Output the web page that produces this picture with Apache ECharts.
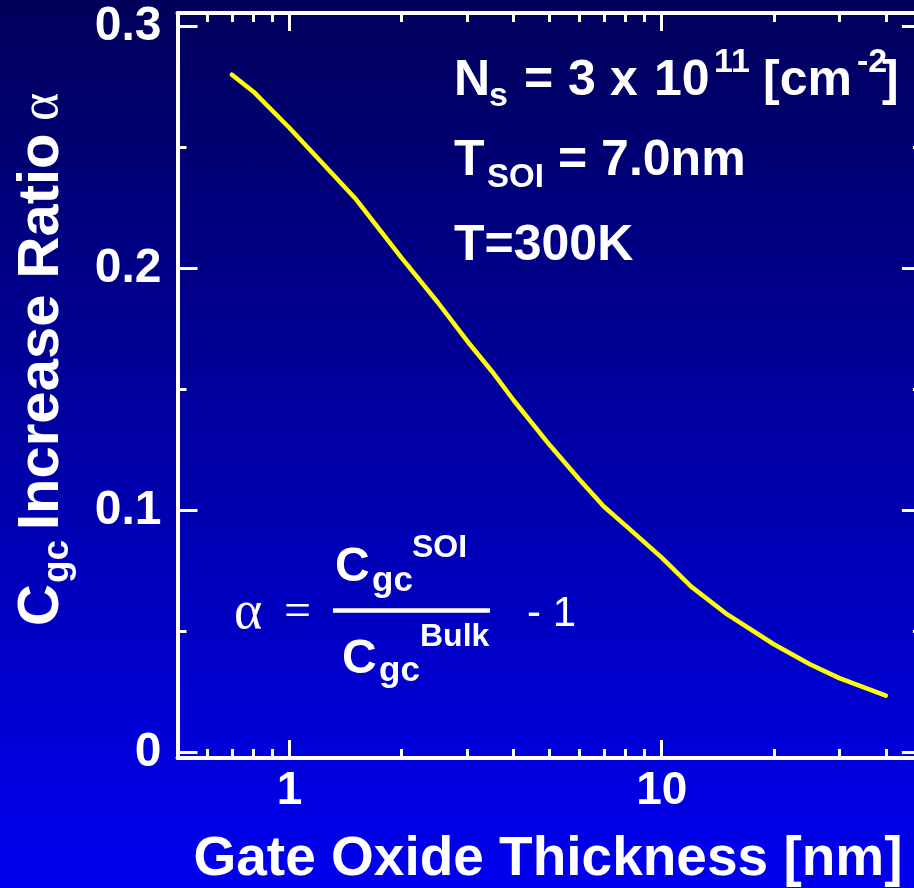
<!DOCTYPE html>
<html>
<head>
<meta charset="utf-8">
<script src="https://cdn.jsdelivr.net/npm/echarts@6/dist/echarts.min.js"></script>
<style>
  html, body { margin: 0; padding: 0; }
  #chart {
    width: 914px; height: 888px;
    background: linear-gradient(to bottom, #00005a 0%, #0000f0 100%);
  }
</style>
</head>
<body>
<div id="chart"></div>
<script>
// Gate oxide thickness [nm] and the resulting Cgc increase ratio alpha
const thickness = [0.7, 0.8, 1, 1.2, 1.5, 2, 2.5, 3, 3.5, 4, 5, 6, 7, 8, 10, 12, 15, 20, 25, 30, 40];
const alphaRatio = [0.280, 0.273, 0.258, 0.245, 0.229, 0.2043, 0.186, 0.170, 0.1574, 0.1455, 0.127,
                    0.1129, 0.1015, 0.0937, 0.0805, 0.0685, 0.057, 0.0447, 0.0364, 0.0307, 0.0235];

// Tick positions
const xMajorTicks = [1, 10];
const xMinorTicks = [0.6, 0.7, 0.8, 0.9, 2, 3, 4, 5, 6, 7, 8, 9, 20, 30, 40];
const yMajorTicks = [0, 0.1, 0.2, 0.3];
const yMinorTicks = [0.05, 0.15, 0.25];

const WHITE = '#ffffff';
const SANS = '"Liberation Sans", Arial, sans-serif';
const SERIF = '"Liberation Serif", "Times New Roman", serif';

function xAxisDef(position, ticks, len, withLine, labels) {
  return {
    type: 'log', logBase: 10, min: 0.5, max: 50, position: position,
    axisLine: { show: withLine, onZero: false, lineStyle: { color: WHITE, width: 4 } },
    axisTick: { show: true, inside: true, length: len, customValues: ticks,
                lineStyle: { color: WHITE, width: 3 } },
    axisLabel: labels ? {
      show: true, customValues: labels, margin: 10, color: WHITE,
      fontFamily: SANS, fontWeight: 'bold', fontSize: 46,
      formatter: v => String(Math.round(v))
    } : { show: false },
    splitLine: { show: false }, minorTick: { show: false }
  };
}

function yAxisDef(position, ticks, len, withLine, labels) {
  return {
    type: 'value', min: -0.0023, max: 0.3055, position: position,
    axisLine: { show: withLine, onZero: false, lineStyle: { color: WHITE, width: 4 } },
    axisTick: { show: true, inside: true, length: len, customValues: ticks,
                lineStyle: { color: WHITE, width: 3 } },
    axisLabel: labels ? {
      show: true, customValues: labels, margin: 16, color: WHITE,
      fontFamily: SANS, fontWeight: 'bold', fontSize: 48,
      formatter: v => (Math.abs(v) < 1e-9 ? '0' : v.toFixed(1))
    } : { show: false },
    splitLine: { show: false }
  };
}

// Text placed by its baseline (middle line sits ~0.31 em above the baseline)
function txt(text, x, baseline, size, opts) {
  opts = opts || {};
  const family = opts.serif ? SERIF : SANS;
  const weight = opts.weight || 'bold';
  return {
    type: 'text', x: x, y: baseline - 0.31 * size, silent: true,
    style: {
      text: text, fill: WHITE,
      font: weight + ' ' + size + 'px ' + family,
      align: opts.align || 'left', verticalAlign: 'middle'
    }
  };
}

// Rotated text reading bottom-to-top; x is the baseline column, y the start
function vtxt(text, baselineX, startY, size, opts) {
  opts = opts || {};
  const family = opts.serif ? SERIF : SANS;
  const weight = opts.weight || 'bold';
  return {
    type: 'text', x: baselineX - 0.31 * size, y: startY, rotation: Math.PI / 2, silent: true,
    style: {
      text: text, fill: WHITE,
      font: weight + ' ' + size + 'px ' + family,
      align: 'left', verticalAlign: 'middle'
    }
  };
}

const annotations = [
  // Sheet density
  txt('N', 454, 97, 50),
  txt('s', 489, 107, 34),
  txt('=', 524, 97, 50),
  txt('3', 568, 97, 50),
  txt('x', 610, 97, 50),
  txt('10', 654, 97, 50),
  txt('11', 714, 73, 34),
  txt('[cm', 763, 97, 50),
  txt('-2', 857, 73, 34),
  txt(']', 882, 97, 50),
  // SOI thickness
  txt('T', 454, 177, 50),
  txt('SOI', 487, 188, 33),
  txt('= 7.0nm', 558, 177, 50),
  // Temperature
  txt('T=300K', 454, 262, 50),
  // Definition of alpha
  txt('\u03b1', 234, 631, 54, { serif: true, weight: 'normal' }),
  txt('=', 284, 628, 48, { serif: true, weight: 'normal' }),
  { type: 'line', silent: true, shape: { x1: 333, y1: 610.5, x2: 490, y2: 610.5 },
    style: { stroke: WHITE, lineWidth: 4.5 } },
  txt('C', 335, 583, 48),
  txt('gc', 372, 592, 35),
  txt('SOI', 412, 558, 32),
  txt('C', 342, 675, 48),
  txt('gc', 379, 682, 35),
  txt('Bulk', 420, 647, 32),
  txt('- 1', 527, 627, 42, { weight: 'normal' }),
  // Axis titles
  txt('Gate Oxide Thickness [nm]', 548, 877, 55, { align: 'center' }),
  vtxt('C', 60, 626, 58),
  vtxt('gc', 69, 583, 37),
  vtxt('Increase Ratio', 60, 530, 58),
  vtxt('\u03b1', 60, 121, 54, { serif: true, weight: 'normal' })
];

const chart = echarts.init(document.getElementById('chart'), null, { renderer: 'canvas' });
chart.setOption({
  backgroundColor: 'transparent',
  animation: false,
  grid: { left: 177.5, top: 13, width: 744.4, height: 745, containLabel: false, outerBoundsMode: 'none' },
  xAxis: [
    xAxisDef('bottom', xMajorTicks, 18, true, xMajorTicks),
    xAxisDef('bottom', xMinorTicks, 9, false, null),
    xAxisDef('top', xMajorTicks, 18, true, null),
    xAxisDef('top', xMinorTicks, 9, false, null)
  ],
  yAxis: [
    yAxisDef('left', yMajorTicks, 20, true, yMajorTicks),
    yAxisDef('left', yMinorTicks, 9, false, null),
    yAxisDef('right', yMajorTicks, 20, true, null),
    yAxisDef('right', yMinorTicks, 9, false, null)
  ],
  series: [{
    type: 'line', xAxisIndex: 0, yAxisIndex: 0,
    data: thickness.map((t, i) => [t, alphaRatio[i]]),
    symbol: 'none', smooth: false, silent: true,
    lineStyle: { color: '#ffff00', width: 4.5, cap: 'round', join: 'round' }
  }],
  graphic: annotations
});
</script>
</body>
</html>
